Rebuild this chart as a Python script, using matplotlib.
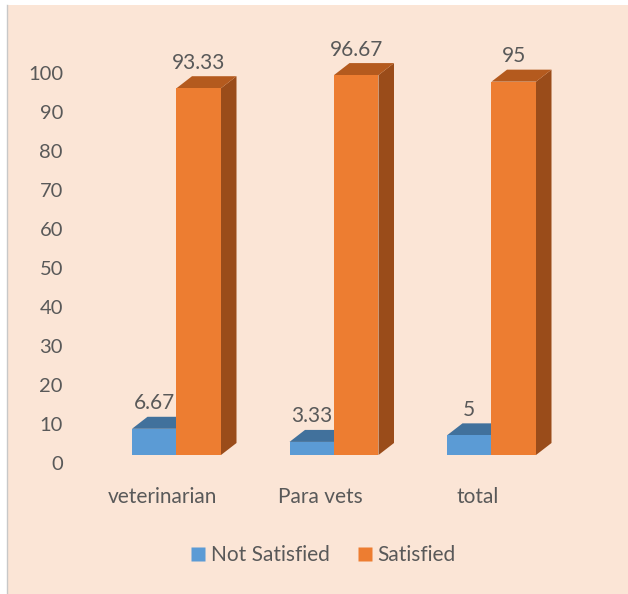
import matplotlib
matplotlib.use("Agg")
import matplotlib.pyplot as plt
from matplotlib.patches import Rectangle, Polygon
from matplotlib.lines import Line2D

categories = ["veterinarian", "Para vets", "total"]
not_satisfied = [6.67, 3.33, 5]
satisfied = [93.33, 96.67, 95]
series_names = ["Not Satisfied", "Satisfied"]
y_ticks = [0, 10, 20, 30, 40, 50, 60, 70, 80, 90, 100]

plt.rcParams['font.family'] = ['Lato', 'DejaVu Sans']
TXT = "#595959"
BG = "#FBE5D6"

W, H = 628, 594
fig = plt.figure(figsize=(W / 100, H / 100), dpi=100)
fig.patch.set_facecolor("white")
fig.patches.append(Rectangle((7 / W, 0), 1, 1 - 5 / H, transform=fig.transFigure,
                             facecolor=BG, edgecolor="none", zorder=-5))
fig.lines.append(Line2D([7 / W, 7 / W], [0, 1 - 5 / H], transform=fig.transFigure,
                        color="#C8C8C8", linewidth=1.0, zorder=-4))

ax = fig.add_axes([0, 0, 1, 1])
ax.set_zorder(1)
ax.patch.set_alpha(0)
for s in ax.spines.values():
    s.set_visible(False)
ax.set_xticks([])
ax.set_yticks([])

# pixel geometry -> data units
px_per_cat = 157.5
px_per_val = 3.93
x0_px = 176.5
base_px = 455
ax.set_xlim(-x0_px / px_per_cat, (W - x0_px) / px_per_cat)
ax.set_ylim((base_px - H) / px_per_val, base_px / px_per_val)

bw = 44.5 / px_per_cat
dx = 15.5 / px_per_cat
dy = 12 / px_per_val

styles = [
    dict(front="#5B9BD5", top="#41719C", side="#3A6690", off=-bw / 2),
    dict(front="#ED7D31", top="#B45A1E", side="#9A4C1A", off=bw / 2),
]

for si, vals in enumerate([not_satisfied, satisfied]):
    st = styles[si]
    for i, v in enumerate(vals):
        xl = i + st["off"] - bw / 2
        xr = xl + bw
        z = 2 + si
        ax.add_patch(Polygon([(xr, 0), (xr, v), (xr + dx, v + dy), (xr + dx, dy)],
                             closed=True, facecolor=st["side"], edgecolor="none", zorder=z))
        ax.add_patch(Polygon([(xl, v), (xr, v), (xr + dx, v + dy), (xl + dx, v + dy)],
                             closed=True, facecolor=st["top"], edgecolor="none", zorder=z))
        ax.add_patch(Rectangle((xl, 0), bw, v, facecolor=st["front"], edgecolor="none", zorder=z))
        ax.text(i + st["off"], v + 6.5, f"{v:g}", ha="center", va="center",
                fontsize=15, color=TXT, zorder=5)

# y tick labels (Excel 3D axis offset)
lab_base_px = 465
lab_px_per_val = 3.91
for t in y_ticks:
    py = lab_base_px - lab_px_per_val * t
    ax.text(63 / W, 1 - py / H, f"{t}", transform=ax.transAxes, ha="right", va="center",
            fontsize=14.5, color=TXT)

# category labels
for i, c in enumerate(categories):
    ax.text(i - 14 / px_per_cat, (base_px - 497) / px_per_val, c, ha="center", va="center",
            fontsize=15, color=TXT)

handles = [Line2D([], [], marker="s", linestyle="none", markersize=10,
                  markerfacecolor=styles[k]["front"], markeredgecolor="none") for k in range(2)]
fig.legend(handles, series_names, loc="center", bbox_to_anchor=(322 / W, 1 - 555 / H),
           ncol=2, frameon=False, fontsize=15, labelcolor=TXT, handletextpad=0.1,
           columnspacing=1.2, handlelength=1.0)

fig.savefig("out.png", dpi=100, facecolor=fig.get_facecolor())
